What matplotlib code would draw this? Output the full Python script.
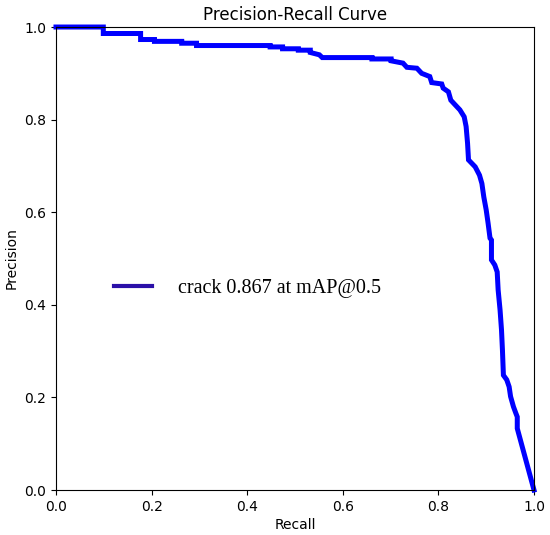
#! usr/bin/env python3
# -*- coding: utf-8 -*-
import matplotlib
matplotlib.use('Agg')
import matplotlib.pyplot as plt
from matplotlib.lines import Line2D

# ------ DATA ----------------------------------
recall = [0.0, 0.099, 0.099, 0.177, 0.177, 0.206, 0.206, 0.263, 0.263, 0.294,
          0.294, 0.448, 0.448, 0.474, 0.474, 0.507, 0.507, 0.532, 0.532, 0.551,
          0.557, 0.661, 0.661, 0.701, 0.701, 0.726, 0.734, 0.755, 0.765, 0.782,
          0.786, 0.807, 0.810, 0.821, 0.826, 0.835, 0.845, 0.854, 0.858, 0.861,
          0.863, 0.877, 0.886, 0.891, 0.895, 0.900, 0.904, 0.908, 0.911, 0.911,
          0.918, 0.923, 0.925, 0.929, 0.932, 0.934, 0.936, 0.943, 0.948, 0.951,
          0.957, 0.962, 0.965, 0.965, 1.0]
precision = [1.0, 1.0, 0.986, 0.986, 0.973, 0.973, 0.969, 0.969, 0.965, 0.965,
             0.960, 0.960, 0.957, 0.957, 0.953, 0.953, 0.950, 0.950, 0.945, 0.940,
             0.934, 0.934, 0.931, 0.931, 0.927, 0.922, 0.913, 0.911, 0.900, 0.893,
             0.880, 0.877, 0.868, 0.860, 0.842, 0.832, 0.821, 0.806, 0.785, 0.749,
             0.713, 0.698, 0.680, 0.662, 0.633, 0.605, 0.576, 0.544, 0.540, 0.497,
             0.486, 0.471, 0.432, 0.389, 0.346, 0.302, 0.248, 0.238, 0.223, 0.202,
             0.180, 0.166, 0.158, 0.133, 0.0]

legend_label = 'crack 0.867 at mAP@0.5'
title = 'Precision-Recall Curve'
ticks = [0.0, 0.2, 0.4, 0.6, 0.8, 1.0]

# ------ DRAW ----------------------------------
fig = plt.figure(figsize=(5.5, 5.35), dpi=100)
ax = fig.add_axes([0.1018, 0.0841, 0.8691, 0.8654])

ax.plot(recall, precision, color='#0000ff', linewidth=3.6, clip_on=False,
        solid_joinstyle='miter')

ax.set_xlim(0, 1)
ax.set_ylim(0, 1)
ax.set_xticks(ticks)
ax.set_yticks(ticks)
ax.tick_params(labelsize=10)
ax.set_xlabel('Recall', fontsize=10, labelpad=3)
ax.set_ylabel('Precision', fontsize=10, labelpad=4)
ax.set_title(title, fontsize=12, pad=5)

# LEGEND (serif text, darker handle)
handle = Line2D([0], [0], color='#2b10a8', linewidth=3)
ax.legend([handle], [legend_label], loc='center left', frameon=False,
          bbox_to_anchor=(0.083, 0.436), handlelength=1.9, handletextpad=1.3,
          prop={'family': 'Liberation Serif', 'size': 14.5})

plt.savefig('out.png', dpi=100)
